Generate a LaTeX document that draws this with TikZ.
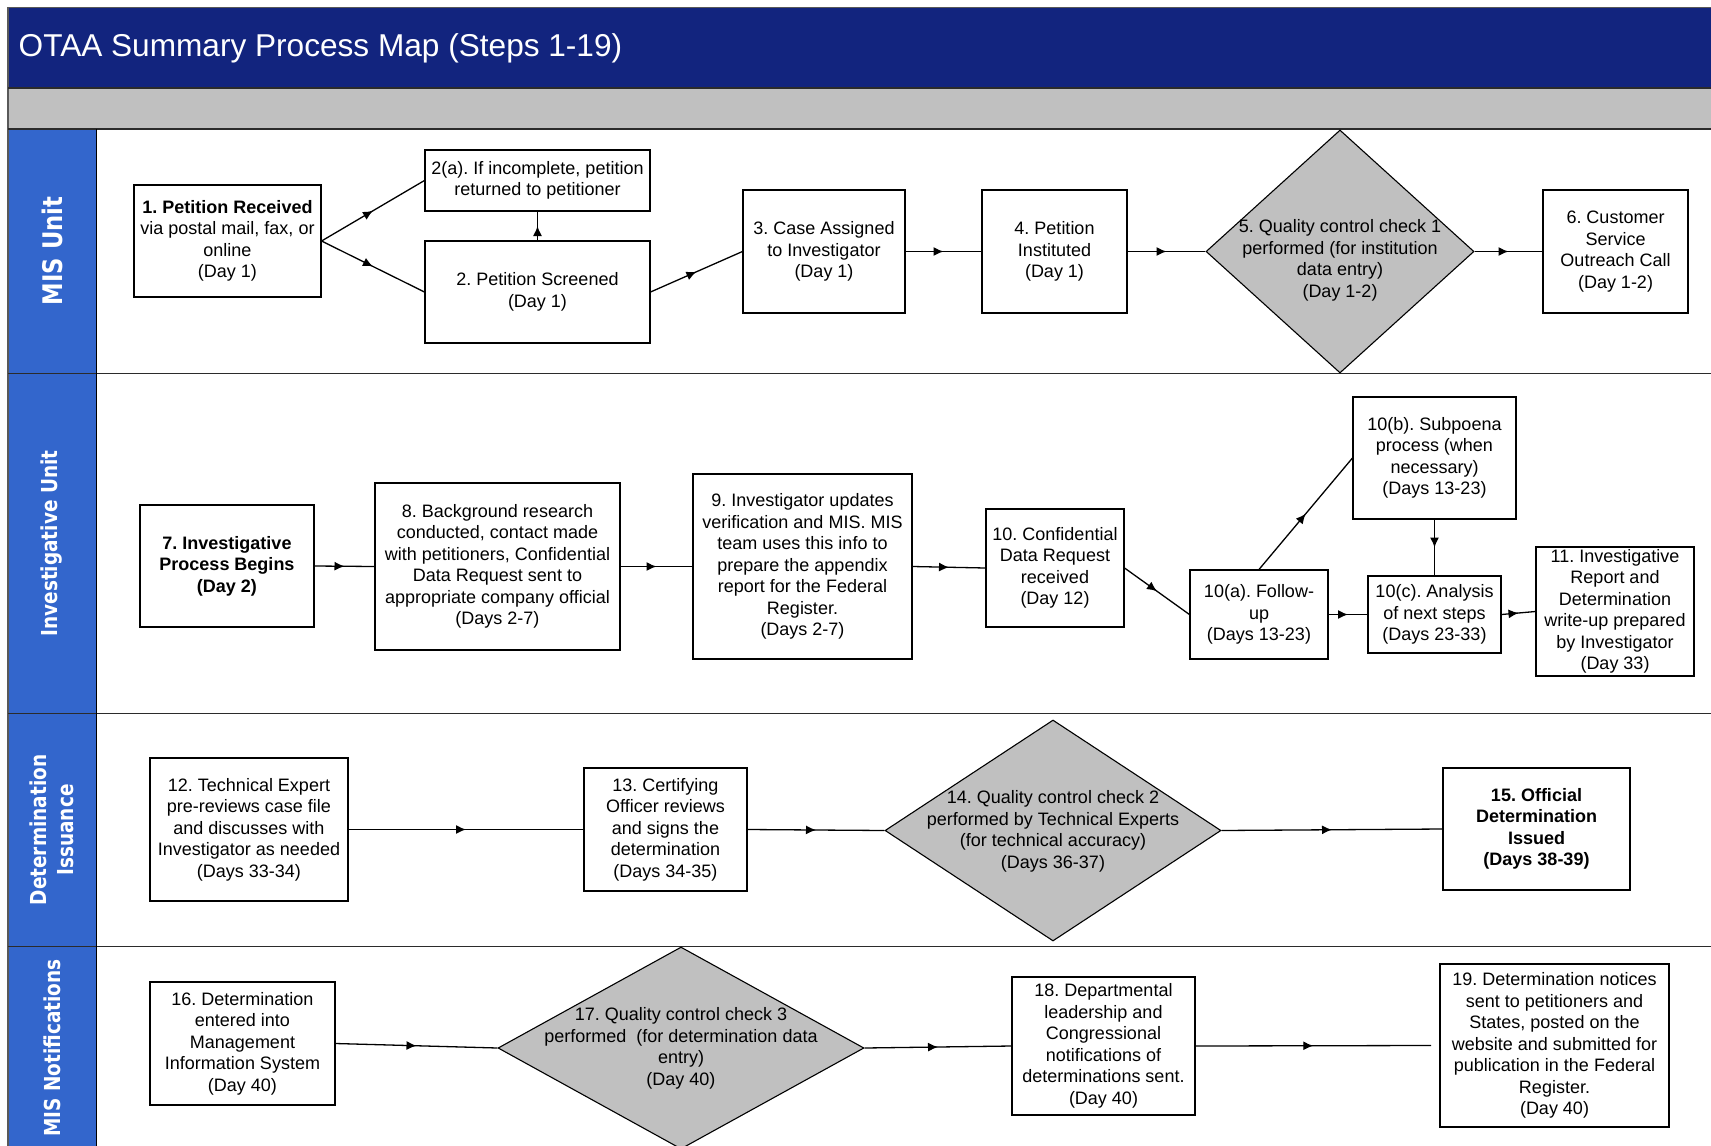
\documentclass[tikz,border=0pt]{standalone}
\usepackage{fontspec}
\setmainfont{Liberation Sans}
\newfontfamily\lanefont[FakeStretch=0.84]{DejaVu Sans Bold}
\usetikzlibrary{arrows.meta,decorations.markings,shapes.geometric}
\definecolor{titleblue}{HTML}{12247E}
\definecolor{laneblue}{HTML}{3366CC}
\definecolor{bandgray}{HTML}{C0C0C0}
\definecolor{lanegray}{HTML}{2B2B2B}
\frenchspacing
\begin{document}
\begin{tikzpicture}[x=1pt,y=-1pt,
  stepbox/.style={draw=black, line width=1.1pt, fill=white, inner sep=0pt, align=center, font=\frenchspacing\fontsize{18}{21.5}\selectfont},
  decision/.style={diamond, draw=black, line width=1.1pt, fill=bandgray, inner sep=0pt},
  dtext/.style={align=center, inner sep=0pt, font=\frenchspacing\fontsize{18}{21.5}\selectfont},
  flow/.style={line width=1.3pt, postaction={decorate}, decoration={markings, mark=at position 0.5 with {\arrow{Latex[length=10pt,width=9pt]}}}},
  lanelabel/.style={rotate=90, text=white, align=center, inner sep=0pt},
  laneline/.style={draw=lanegray, line width=1.6pt},
]
\useasboundingbox (0,0) rectangle (1711,1146);
\clip (0,0) rectangle (1711,1146);
% frame and bands
\fill[white] (0,0) rectangle (1711,1146);
\fill[titleblue] (8,7.5) rectangle (1720,88);
\fill[bandgray] (8,88) rectangle (1720,129);
\fill[laneblue] (8,129) rectangle (96,1160);
\draw[draw=gray!70!black, line width=1.4pt] (1720,7.5) -- (8,7.5) -- (8,1160);
\draw[laneline] (8,88) -- (1720,88);
\draw[laneline] (8,129) -- (1720,129);
\draw[laneline] (8,373.5) -- (1720,373.5);
\draw[laneline] (8,713.5) -- (1720,713.5);
\draw[laneline] (8,946.5) -- (1720,946.5);
\draw[draw=black, line width=1pt] (96,129) -- (96,1160);
% title
\node[anchor=base west, text=white, inner sep=0pt, font=\fontsize{31.6}{36}\selectfont] (title) at (18.5,56) {OTAA Summary Process Map (Steps 1-19)};
% lane labels
\node[lanelabel, font=\lanefont\fontsize{27}{30}\selectfont] (lab1) at (52,251) {MIS Unit};
\node[lanelabel, font=\lanefont\fontsize{22}{27}\selectfont] (lab2) at (52,543.5) {Investigative Unit};
\node[lanelabel, font=\lanefont\fontsize{22}{27}\selectfont] (lab3) at (52,830) {Determination\\Issuance};
\node[lanelabel, font=\lanefont\fontsize{22}{27}\selectfont] (lab4) at (52,1048) {MIS Notifications};
% lane 1
\node[stepbox, minimum width=187pt, minimum height=112pt] (n1) at (227.5,241) {\textbf{1. Petition Received}\\via postal mail, fax, or\\online\\(Day 1)};
\node[stepbox, minimum width=225pt, minimum height=61pt] (n2a) at (537.5,180.5) {2(a). If incomplete, petition\\returned to petitioner};
\node[stepbox, minimum width=225pt, minimum height=102pt] (n2) at (537.5,292) {2. Petition Screened\\(Day 1)};
\node[stepbox, minimum width=162pt, minimum height=123pt] (n3) at (824,251.5) {3. Case Assigned\\to Investigator\\(Day 1)};
\node[stepbox, minimum width=145pt, minimum height=123pt] (n4) at (1054.5,251.5) {4. Petition\\Instituted\\(Day 1)};
\node[decision, minimum width=268pt, minimum height=243pt] (d5) at (1340,251.5) {};
\node[dtext] (t5) at (1340,260.5) {5. Quality control check 1\\performed (for institution\\data entry)\\(Day 1-2)};
\node[stepbox, minimum width=145pt, minimum height=123pt] (n6) at (1615.5,251.5) {6. Customer\\Service\\Outreach Call\\(Day 1-2)};
% lane 2
\node[stepbox, minimum width=174pt, minimum height=122pt] (n7) at (227,566) {\textbf{7. Investigative}\\\textbf{Process Begins}\\\textbf{(Day 2)}};
\node[stepbox, minimum width=245pt, minimum height=167pt] (n8) at (497.5,566.5) {8. Background research\\conducted, contact made\\with petitioners, Confidential\\Data Request sent to\\appropriate company official\\(Days 2-7)};
\node[stepbox, minimum width=219pt, minimum height=185pt] (n9) at (802.5,566.5) {9. Investigator updates\\verification and MIS. MIS\\team uses this info to\\prepare the appendix\\report for the Federal\\Register.\\(Days 2-7)};
\node[stepbox, minimum width=138pt, minimum height=118pt] (n10) at (1055,568) {10. Confidential\\Data Request\\received\\(Day 12)};
\node[stepbox, minimum width=138pt, minimum height=89pt] (n10a) at (1259,614.5) {10(a). Follow-\\up\\(Days 13-23)};
\node[stepbox, minimum width=163pt, minimum height=122pt] (n10b) at (1434.5,458) {10(b). Subpoena\\process (when\\necessary)\\(Days 13-23)};
\node[stepbox, minimum width=133pt, minimum height=77pt] (n10c) at (1434.5,614.5) {10(c). Analysis\\of next steps\\(Days 23-33)};
\node[stepbox, minimum width=158pt, minimum height=129pt] (n11) at (1615,611.5) {11. Investigative\\Report and\\Determination\\write-up prepared\\by Investigator\\(Day 33)};
% lane 3
\node[stepbox, minimum width=198pt, minimum height=143pt] (n12) at (249,829.5) {12. Technical Expert\\pre-reviews case file\\and discusses with\\Investigator as needed\\(Days 33-34)};
\node[stepbox, minimum width=163pt, minimum height=123pt] (n13) at (665.5,829.5) {13. Certifying\\Officer reviews\\and signs the\\determination\\(Days 34-35)};
\node[decision, minimum width=336pt, minimum height=221pt] (d14) at (1053,830.5) {};
\node[dtext] (t14) at (1053,831.5) {14. Quality control check 2\\performed by Technical Experts\\(for technical accuracy)\\(Days 36-37)};
\node[stepbox, minimum width=187pt, minimum height=122pt] (n15) at (1536.5,829) {\textbf{15. Official}\\\textbf{Determination}\\\textbf{Issued}\\\textbf{(Days 38-39)}};
% lane 4
\node[stepbox, minimum width=185pt, minimum height=123pt] (n16) at (242.5,1043.5) {16. Determination\\entered into\\Management\\Information System\\(Day 40)};
\node[decision, minimum width=366pt, minimum height=202pt] (d17) at (681,1048) {};
\node[dtext] (t17) at (681,1048.5) {17. Quality control check 3\\performed~ (for determination data\\entry)\\(Day 40)};
\node[stepbox, minimum width=183pt, minimum height=138pt] (n18) at (1103.5,1046) {18. Departmental\\leadership and\\Congressional\\notifications of\\determinations sent.\\(Day 40)};
\node[stepbox, minimum width=229pt, minimum height=163pt] (n19) at (1554.5,1045.5) {19. Determination notices\\sent to petitioners and\\States, posted on the\\website and submitted for\\publication in the Federal\\Register.\\(Day 40)};
\coordinate (e18) at (1431,1045.5);
% connectors
\draw[flow] (n1.east) -- (n2a.west);
\draw[flow] (n1.east) -- (n2.west);
\draw[flow] (n2.north) -- (n2a.south);
\draw[flow] (n2.east) -- (n3.west);
\draw[flow] (n3.east) -- (n4.west);
\draw[flow] (n4.east) -- (d5.west);
\draw[flow] (d5.east) -- (n6.west);
\draw[flow] (n7.east) -- (n8.west);
\draw[flow] (n8.east) -- (n9.west);
\draw[flow] (n9.east) -- (n10.west);
\draw[flow] (n10.east) -- (n10a.west);
\draw[flow] (n10a.north) -- (n10b.west);
\draw[flow] (n10a.east) -- (n10c.west);
\draw[flow] (n10b.south) -- (n10c.north);
\draw[flow] (n10c.east) -- (n11.west);
\draw[flow] (n12.east) -- (n13.west);
\draw[flow] (n13.east) -- (d14.west);
\draw[flow] (d14.east) -- (n15.west);
\draw[flow] (n16.east) -- (d17.west);
\draw[flow] (d17.east) -- (n18.west);
\draw[flow] (n18.east) -- (e18);
\end{tikzpicture}
\end{document}
